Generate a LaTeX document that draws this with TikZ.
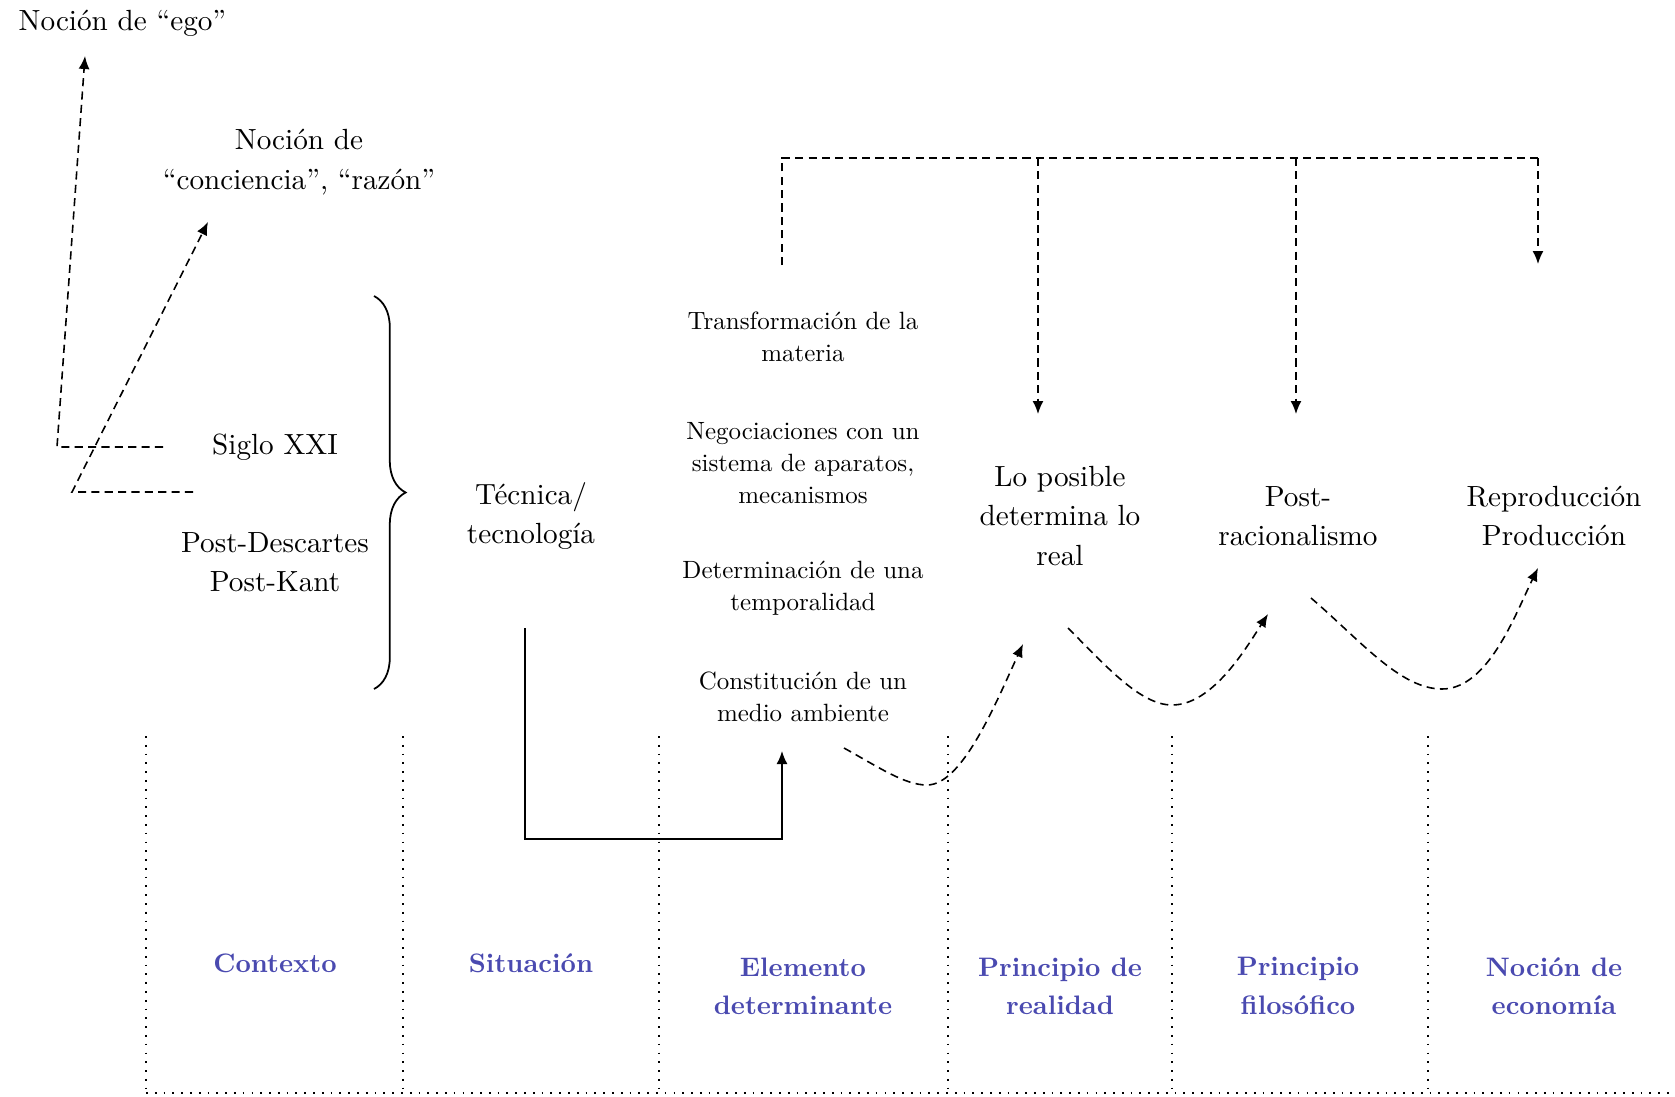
\documentclass[tikz,border=0pt]{standalone}
\usepackage{fontspec}
\setmainfont{lmroman10}[Extension=.otf, UprightFont=*-regular, BoldFont=*-bold, ItalicFont=*-italic]
\usetikzlibrary{arrows.meta,positioning,decorations.pathreplacing}
\definecolor{HeadBlue}{HTML}{4A4AB0}

\begin{document}
\begin{tikzpicture}[
  x=0.01cm, y=-0.01cm,
  txt/.style={align=center, font=\fontsize{8.3}{11.2}\selectfont, inner sep=0pt},
  small/.style={align=center, font=\fontsize{7.1}{9.1}\selectfont, inner sep=0pt},
  head/.style={align=center, font=\fontsize{7.6}{10.9}\selectfont\bfseries, text=HeadBlue, inner sep=0pt},
  dashline/.style={dash pattern=on 2.3pt off 1.5pt, line width=0.45pt},
  dasharrow/.style={dashline, -{Latex[length=1.3mm,width=1.1mm]}},
  solidarrow/.style={line width=0.45pt, -{Latex[length=1.3mm,width=1.1mm]}},
  divider/.style={dotted, line width=0.5pt}
]
  \useasboundingbox (0,0) rectangle (1675,1096);

  % column dividers
  \foreach \x in {146,403,659,948,1172,1428}
    \draw[divider] (\x,736) -- (\x,1093);
  \draw[divider] (146,1093) -- (1675,1093);

  % column headings
  \node[head] (contexto) at (275,963) {Contexto};
  \node[head] (situacion) at (531,963) {Situación};
  \node[head] (elemento) at (803,986) {Elemento\\determinante};
  \node[head] (realidad) at (1060,986) {Principio de\\realidad};
  \node[head] (filosofico) at (1298,986) {Principio\\filosófico};
  \node[head] (economia) at (1554,986) {Noción de\\economía};

  % context column
  \node[txt, anchor=west] (ego) at (18,23) {Noción de “ego”};
  \node[txt] (conciencia) at (299,162) {Noción de\\“conciencia”, “razón”};
  \node[txt] (siglo) at (275,447) {Siglo XXI};
  \node[txt] (post) at (275,562) {Post-Descartes\\Post-Kant};
  \coordinate (bracetop) at (374,296);
  \coordinate (bracebot) at (374,689);
  \draw[decorate, decoration={brace, amplitude=9pt}, line width=0.5pt] (bracetop) -- (bracebot);

  \coordinate (egotip) at (85,56);
  \coordinate (egocorner) at (57,447);
  \coordinate (egoend) at (163,447);
  \coordinate (raztip) at (208,222);
  \coordinate (razcorner) at (72,492);
  \coordinate (razend) at (193,492);
  \draw[dasharrow] (egoend) -- (egocorner) -- (egotip);
  \draw[dasharrow] (razend) -- (razcorner) -- (raztip);

  % situation and elements
  \node[txt] (tecnica) at (531,516) {Técnica/\\tecnología};
  \node[small] (materia) at (803,337) {Transformación de la\\materia};
  \node[small] (aparatos) at (803,463) {Negociaciones con un\\sistema de aparatos,\\mecanismos};
  \node[small] (temporal) at (803,588) {Determinación de una\\temporalidad};
  \node[small] (medio) at (803,697) {Constitución de un\\medio ambiente};

  \coordinate (tecstart) at (525,628);
  \coordinate (medtip) at (782,751);
  \draw[solidarrow] (tecstart) |- (782,839) -- (medtip);

  % principles
  \node[txt] (posible) at (1060,516) {Lo posible\\determina lo\\real};
  \node[txt] (postrac) at (1298,516) {Post-\\racionalismo};
  \node[txt] (reprod) at (1554,516) {Reproducción\\Producción};

  % top bracket
  \coordinate (topstart) at (782,265);
  \coordinate (tip1) at (1038,414);
  \coordinate (tip2) at (1296,414);
  \coordinate (tip3) at (1538,264);
  \draw[dashline] (topstart) -- (782,158) -- (1538,158);
  \draw[dasharrow] (1038,158) -- (tip1);
  \draw[dasharrow] (1296,158) -- (tip2);
  \draw[dasharrow] (1538,158) -- (tip3);

  % curved links
  \coordinate (c1s) at (844,748);
  \coordinate (c1e) at (1023,644);
  \coordinate (c2s) at (1068,628);
  \coordinate (c2e) at (1268,614);
  \coordinate (c3s) at (1311,598);
  \coordinate (c3e) at (1538,568);
  \draw[dasharrow] (c1s) .. controls (880,768) and (905,785) .. (927,785) .. controls (962,785) and (995,705) .. (c1e);
  \draw[dasharrow] (c2s) .. controls (1105,665) and (1140,705) .. (1172,705) .. controls (1212,705) and (1245,650) .. (c2e);
  \draw[dasharrow] (c3s) .. controls (1360,640) and (1400,689) .. (1442,689) .. controls (1488,689) and (1515,615) .. (c3e);
\end{tikzpicture}
\end{document}
